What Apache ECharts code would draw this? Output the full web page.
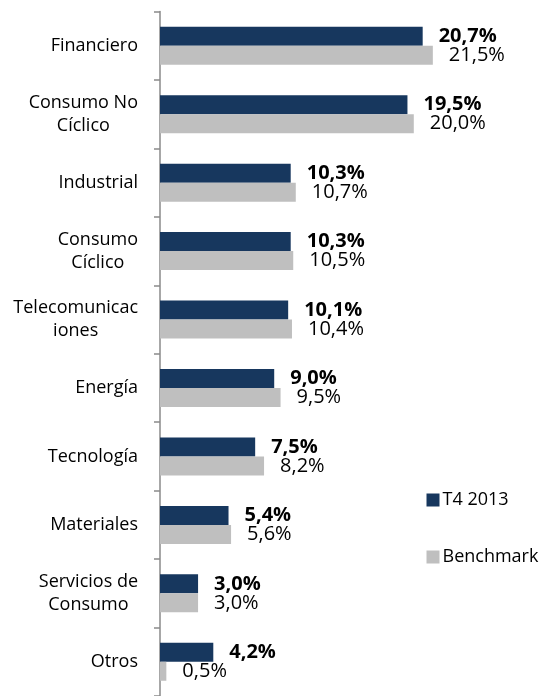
<!DOCTYPE html>
<html>
<head>
<meta charset="utf-8">
<script src="https://cdn.jsdelivr.net/npm/echarts@6/dist/echarts.min.js"></script>
<style>html,body{margin:0;padding:0;background:#fff}#c{width:544px;height:696px}</style>
</head>
<body>
<div id="c"></div>
<script>
var categories = ['Financiero', 'Consumo No\nCíclico', 'Industrial', 'Consumo\nCíclico', 'Telecomunicac\niones', 'Energía', 'Tecnología', 'Materiales', 'Servicios de\nConsumo', 'Otros'];
var t4_2013 = [20.7, 19.5, 10.3, 10.3, 10.1, 9.0, 7.5, 5.4, 3.0, 4.2];
var benchmark = [21.5, 20.0, 10.7, 10.5, 10.4, 9.5, 8.2, 5.6, 3.0, 0.5];
var seriesNames = ['T4 2013', 'Benchmark'];

var FONT = '"Open Sans", sans-serif';
var LH = 23;
function fmt(v) { return v.toFixed(1).replace('.', ',') + '%'; }

// centre each line of a multi-line category label inside its right-aligned box
var ctx = document.createElement('canvas').getContext('2d');
ctx.font = '18px "Open Sans"';
var rich = {};
var labelText = {};
categories.forEach(function (cat, i) {
  var lines = cat.split('\n');
  var ws = lines.map(function (s) { return ctx.measureText(s).width; });
  var W = Math.max.apply(null, ws);
  labelText[cat] = lines.map(function (s, j) {
    var key = 'c' + i + '_' + j;
    rich[key] = { padding: [0, (W - ws[j]) / 2, 0, 0], fontFamily: FONT, fontSize: 18, lineHeight: LH, color: '#000' };
    return '{' + key + '|' + s + '}';
  }).join('\n');
});

var chart = echarts.init(document.getElementById('c'), null, { renderer: 'canvas' });
chart.setOption({
  animation: false,
  backgroundColor: '#ffffff',
  grid: { left: 160, top: 11.5, height: 690.5, width: 380.7, containLabel: false },
  xAxis: { type: 'value', min: 0, max: 30, show: false, splitLine: { show: false } },
  yAxis: {
    type: 'category',
    data: categories,
    inverse: true,
    axisLine: { show: true, lineStyle: { color: '#8a8a8a', width: 1.5 } },
    axisTick: { show: true, length: 6, lineStyle: { color: '#8a8a8a', width: 1.5 } },
    axisLabel: {
      margin: 22,
      color: '#000',
      fontFamily: FONT,
      fontSize: 18,
      lineHeight: LH,
      formatter: function (v) { return labelText[v]; },
      rich: rich
    },
    splitLine: { show: false }
  },
  legend: {
    orient: 'vertical',
    left: 426.5,
    top: 491,
    padding: 0,
    itemWidth: 13,
    itemHeight: 13,
    itemGap: 39,
    icon: 'rect',
    textStyle: { fontFamily: FONT, fontSize: 18, color: '#000', lineHeight: 14, padding: [0, 0, 0, -2] },
    data: seriesNames
  },
  series: [
    {
      name: seriesNames[0], type: 'bar', data: t4_2013, barWidth: 19, barGap: '0%',
      itemStyle: { color: '#17375e' },
      label: { show: true, position: 'right', distance: 16, color: '#000', fontFamily: FONT, fontSize: 20, fontWeight: 'bold', formatter: function (p) { return fmt(p.value); } }
    },
    {
      name: seriesNames[1], type: 'bar', data: benchmark, barWidth: 19, barGap: '0%',
      itemStyle: { color: '#bfbfbf' },
      label: { show: true, position: 'right', distance: 16, color: '#000', fontFamily: FONT, fontSize: 20, formatter: function (p) { return fmt(p.value); } }
    }
  ]
});
</script>
</body>
</html>
